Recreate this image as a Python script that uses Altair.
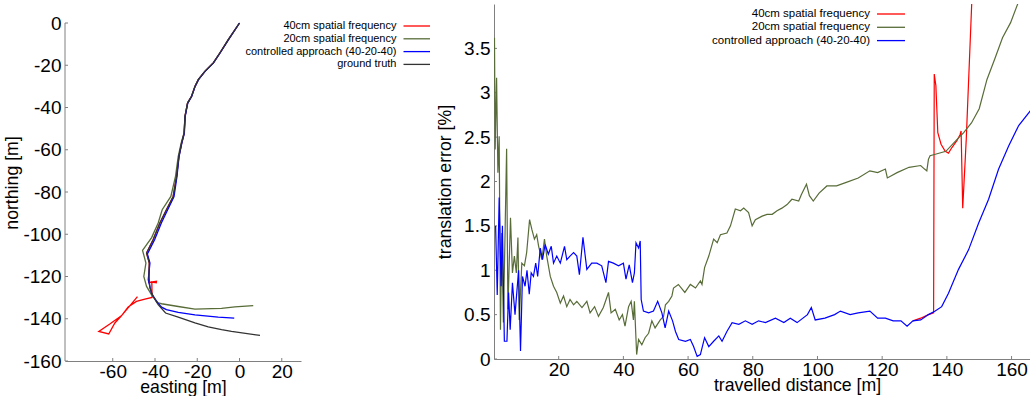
import altair as alt
import pandas as pd

# ---------------- trajectory panel: easting / northing [m] ----------------
gt_east = [0, -5.3, -9.3, -12.4, -16.4, -19.5, -21.1, -22.7, -24.6, -25.8, -26.2, -27.4, -28.7,
           -29.8, -31.4, -34.6, -37.7, -40.9, -44.0, -42.7, -42.9, -42.4, -40.9, -38.5, -35.0,
           -29.0, -21.1, -14.8, -8.5, -3.8, 9.7]
gt_north = [0, -7.9, -14.2, -18.9, -22.9, -26.8, -30.0, -34.7, -37.9, -44.2, -52.1, -56.8, -63.1,
            -72.6, -82.1, -88.4, -94.7, -102.6, -108.9, -113.6, -119.9, -125.4, -129.4, -133.3,
            -137.3, -139.2, -142.0, -143.9, -145.2, -146.0, -147.9]

ctl_east = [0, -5.2, -9.2, -12.3, -16.3, -19.4, -21.0, -22.6, -24.5, -25.7, -26.1, -27.3, -28.6,
            -29.6, -31.0, -34.0, -37.0, -40.2, -43.6, -42.4, -43.2, -41.7, -39.3, -36.9, -34.6,
            -29.0, -21.1, -10.1, -2.5]
ctl_north = [0, -7.9, -14.2, -18.9, -22.9, -26.8, -30.0, -34.7, -37.9, -44.2, -52.1, -56.8, -63.1,
             -72.6, -82.1, -88.4, -94.7, -102.6, -109.3, -113.6, -121.5, -127.8, -131.8, -134.5,
             -135.7, -137.0, -138.2, -139.2, -139.7]

f20_east = [0, -5.3, -9.3, -12.4, -16.4, -19.5, -21.1, -22.7, -24.6, -25.8, -26.3, -27.6, -29.0,
            -30.3, -32.5, -36.6, -38.5, -41.6, -45.9, -44.3, -45.3, -44.0, -41.7, -38.5, -36.9,
            -29.0, -21.1, -13.2, -8.5, -2.2, 6.5]
f20_north = [0, -7.9, -14.2, -18.9, -22.9, -26.8, -30.0, -34.7, -37.9, -44.2, -52.1, -56.8, -63.1,
             -72.6, -82.1, -88.4, -94.7, -101.6, -107.6, -113.6, -120.0, -124.7, -128.6, -132.5,
             -132.9, -134.2, -135.4, -135.2, -135.1, -134.4, -133.8]

f40_east = [0, -5.3, -9.3, -12.4, -16.4, -19.5, -21.1, -22.7, -24.6, -25.8, -26.2, -27.4, -28.7,
            -29.8, -31.4, -34.6, -37.7, -40.9, -44.0, -42.7, -42.9, -39.3, -39.4, -41.5, -41.4,
            -44.8, -48.8, -52.7, -55.9, -61.4, -66.6, -61.9, -59.0, -55.9, -48.3]
f40_north = [0, -7.9, -14.2, -18.9, -22.9, -26.8, -30.0, -34.7, -37.9, -44.2, -52.1, -56.8, -63.1,
             -72.6, -82.1, -88.4, -94.7, -102.6, -108.9, -113.6, -122.8, -122.3, -123.0, -122.6,
             -129.9, -130.7, -131.8, -134.4, -138.6, -142.5, -146.0, -147.2, -142.0, -138.6, -129.5]

# ---------------- error panel: travelled distance [m] / translation error [%] ----------------
f20_dist = [0.15, 0.36, 0.8, 1.2, 1.6, 2.0, 2.4, 2.9, 3.9, 4.3, 5.1, 5.7, 6.3, 6.9, 7.4, 7.8, 8.6,
            9.4, 10.1, 11.0, 11.7, 12.5, 13.2, 13.8, 14.8, 15.6, 16.3, 17.4, 18.4, 19.4, 20.5,
            21.5, 22.5, 23.5, 24.6, 25.6, 27.2, 28.7, 29.7, 31.1, 32.3, 33.8, 35.4, 36.2, 37.5,
            38.7, 39.7, 40.5, 41.6, 42.4, 43.1, 43.4, 44.1, 44.7, 45.7, 46.7, 47.8, 48.8, 49.8,
            51.4, 52.4, 53.0, 54.0, 55.0, 55.5, 57.0, 59.0, 60.7, 62.3, 63.8, 64.3, 65.1, 66.4,
            67.9, 69.0, 70.0, 72.0, 73.1, 74.6, 76.2, 77.2, 78.7, 79.8, 80.8, 82.9, 84.4, 86.0,
            87.5, 89.0, 90.6, 92.1, 94.2, 95.0, 96.6, 97.5, 98.7, 100.5, 102.9, 105.9, 108.9,
            112.6, 116.2, 118.6, 121.0, 121.6, 124.6, 128.3, 131.9, 133.1, 133.8, 134.3, 134.8,
            136.7, 139.7, 142.8, 145.2, 147.6, 150.0, 152.4, 154.8, 157.2, 159.7, 162.1, 163.0]
f20_err = [3.62, 2.36, 3.17, 2.10, 2.51, 0.33, 1.42, 0.41, 2.37, 0.56, 1.59, 0.97, 1.16, 0.97, 1.37,
           0.44, 1.08, 1.05, 1.20, 1.57, 1.46, 1.35, 1.40, 1.27, 1.12, 1.35, 1.16, 0.93, 0.82, 0.75,
           0.63, 0.71, 0.59, 0.67, 0.61, 0.65, 0.58, 0.65, 0.52, 0.59, 0.48, 0.58, 0.75, 0.52, 0.56,
           0.44, 0.50, 0.37, 0.59, 0.65, 0.44, 0.65, 0.05, 0.22, 0.16, 0.24, 0.29, 0.43, 0.35, 0.44,
           0.48, 0.61, 0.65, 0.71, 0.80, 0.84, 0.75, 0.84, 0.80, 0.88, 0.84, 1.03, 1.16, 1.35, 1.31,
           1.40, 1.42, 1.50, 1.69, 1.67, 1.70, 1.65, 1.50, 1.57, 1.61, 1.63, 1.63, 1.67, 1.70, 1.74,
           1.80, 1.78, 1.85, 1.97, 1.84, 1.78, 1.87, 1.95, 1.95, 1.99, 2.04, 2.12, 2.10, 2.14, 2.04,
           2.10, 2.16, 2.18, 2.14, 2.12, 2.25, 2.29, 2.31, 2.34, 2.46, 2.55, 2.66, 2.82, 3.15, 3.38,
           3.62, 3.79, 4.02, 4.10]

ctl_dist = [0.5, 1.0, 1.6, 2.2, 2.6, 3.2, 4.0, 4.5, 5.0, 5.7, 6.5, 7.6, 8.2, 8.8, 9.6, 10.2, 10.9,
            11.5, 12.2, 12.9, 13.5, 14.3, 15.0, 15.8, 16.8, 17.7, 18.4, 19.4, 20.5, 21.8, 22.5,
            23.5, 24.6, 25.6, 26.4, 27.5, 28.7, 30.2, 31.8, 33.3, 34.6, 35.4, 36.9, 38.5, 40.0,
            40.8, 41.8, 42.8, 43.4, 43.9, 44.7, 45.2, 45.5, 46.2, 47.8, 49.3, 50.6, 51.9, 52.9,
            54.0, 55.2, 56.1, 57.1, 59.2, 60.7, 61.7, 62.8, 63.8, 65.1, 66.4, 67.9, 69.5, 70.5,
            72.0, 73.6, 75.7, 77.7, 79.8, 81.8, 83.9, 87.0, 89.6, 91.6, 93.7, 96.9, 98.1, 99.3,
            102.3, 105.3, 107.1, 110.1, 112.6, 116.2, 118.6, 121.0, 123.4, 125.8, 127.7, 129.5,
            131.9, 134.3, 136.4, 138.4, 140.5, 143.6, 146.7, 149.8, 152.9, 156.0, 159.1, 162.2,
            165.9]
ctl_err = [1.50, 0.72, 1.82, 0.82, 1.50, 0.20, 0.20, 0.75, 0.33, 0.86, 0.50, 1.00, 0.09, 0.93, 0.82,
           1.00, 0.73, 0.97, 0.93, 1.08, 0.93, 1.25, 1.12, 1.29, 1.18, 1.27, 1.08, 1.16, 1.08, 1.27,
           1.12, 1.16, 1.20, 1.16, 0.95, 1.37, 1.01, 1.08, 1.08, 1.05, 0.86, 1.10, 1.08, 1.05, 1.08,
           0.90, 1.06, 0.86, 0.97, 1.31, 1.25, 1.33, 0.67, 0.54, 0.52, 0.54, 0.65, 0.52, 0.35, 0.54,
           0.43, 0.31, 0.22, 0.20, 0.22, 0.14, 0.03, 0.05, 0.24, 0.14, 0.20, 0.26, 0.20, 0.31, 0.41,
           0.39, 0.43, 0.39, 0.43, 0.41, 0.46, 0.41, 0.46, 0.41, 0.50, 0.58, 0.44, 0.46, 0.50, 0.54,
           0.50, 0.52, 0.54, 0.46, 0.46, 0.43, 0.43, 0.37, 0.43, 0.44, 0.50, 0.54, 0.59, 0.74, 1.01,
           1.23, 1.53, 1.80, 2.14, 2.40, 2.63, 2.80]

f40_dist = [129.5, 131.9, 134.3, 135.9, 136.1, 136.6, 137.2, 138.2, 139.5, 140.5, 141.5, 143.1,
            144.1, 144.4, 144.9, 146.0, 147.7, 148.0]
f40_err = [0.43, 0.46, 0.50, 0.52, 3.21, 3.08, 2.55, 2.42, 2.34, 2.32, 2.38, 2.46, 2.53, 2.57,
           1.70, 2.48, 4.02, 4.20]

# ---------------- shared styling ----------------
RED = "#ff0000"
GREEN = "#586c38"
BLUE = "#0000ff"
BLACK = "#333333"
AXIS_GREY = "#808080"
FONT = "Liberation Sans"

legend_left_labels = ["40cm spatial frequency", "20cm spatial frequency",
                      "controlled approach (40-20-40)", "ground truth"]
legend_left_colors = [RED, GREEN, BLUE, BLACK]
legend_right_labels = legend_left_labels[:3]
legend_right_colors = legend_left_colors[:3]

TICK_LABEL = "datum.value + ''"


def frame(xs, ys):
    return pd.DataFrame({"x": xs, "y": ys, "i": list(range(len(xs)))})


def legend_layers(labels, colors, text_x, line_x0, line_x1, y0, step, size):
    layers = []
    for k, (lab, col) in enumerate(zip(labels, colors)):
        y = y0 + k * step
        layers.append(
            alt.Chart(pd.DataFrame({"label": [lab]}))
            .mark_text(align="right", baseline="middle", font=FONT, fontSize=size, color="#000000")
            .encode(text="label:N", x=alt.value(text_x), y=alt.value(y))
        )
        layers.append(
            alt.Chart(pd.DataFrame({"label": [lab]}))
            .mark_rule(color=col, strokeWidth=1.3)
            .encode(x=alt.value(line_x0), x2=alt.value(line_x1), y=alt.value(y))
        )
    return layers


# ---------------- left: trajectories ----------------
LW, LH = 236, 357
lx = alt.X("x:Q", scale=alt.Scale(domain=[-82.6, 29.1], nice=False, zero=False),
           axis=alt.Axis(values=[-60, -40, -20, 0, 20], title="easting [m]", labelExpr=TICK_LABEL,
                         ticks=False, tickSize=0, labelPadding=1, titlePadding=-3, grid=False,
                         labelFlush=False, labelOverlap=False))
ly = alt.Y("y:Q", scale=alt.Scale(domain=[-160, 9.0], nice=False, zero=False),
           axis=alt.Axis(values=[-160, -140, -120, -100, -80, -60, -40, -20, 0], title="northing [m]",
                         labelExpr=TICK_LABEL, domain=False, ticks=False, tickSize=0, labelPadding=4,
                         titlePadding=1, grid=False, labelFlush=False, labelOverlap=False))


def traj(xs, ys, color):
    return (alt.Chart(frame(xs, ys)).mark_line(color=color, strokeWidth=1.3, clip=True)
            .encode(x=lx, y=ly, order="i:Q"))


left_axis_line = (alt.Chart(pd.DataFrame({"y": [-160], "y_end": [0]}))
                  .mark_rule(color=AXIS_GREY, strokeWidth=1)
                  .encode(x=alt.value(0), y=ly, y2="y_end:Q"))
left_xticks = (alt.Chart(pd.DataFrame({"x": [-60, -40, -20, 0, 20]}))
               .mark_rule(color=AXIS_GREY)
               .encode(x=lx, y=alt.value(LH), y2=alt.value(LH - 3)))
left_yticks = (alt.Chart(pd.DataFrame({"y": [-160, -140, -120, -100, -80, -60, -40, -20, 0]}))
               .mark_rule(color=AXIS_GREY)
               .encode(y=ly, x=alt.value(0), x2=alt.value(3)))

left = alt.layer(
    left_axis_line, left_xticks, left_yticks,
    traj(f40_east, f40_north, RED),
    traj(f20_east, f20_north, GREEN),
    traj(ctl_east, ctl_north, BLUE),
    traj(gt_east, gt_north, BLACK),
    *legend_layers(legend_left_labels, legend_left_colors, 331.5, 338.5, 365, 22, 12.8, 11),
).properties(width=LW, height=LH)

# ---------------- right: translation error ----------------
RW, RH = 536, 355
rx = alt.X("x:Q", scale=alt.Scale(domain=[0, 165.7], nice=False, zero=False),
           axis=alt.Axis(values=[20, 40, 60, 80, 100, 120, 140, 160], title="travelled distance [m]",
                         labelExpr=TICK_LABEL, ticks=False, tickSize=0, labelPadding=1, titlePadding=-3,
                         titleX=303, grid=False, labelFlush=False, labelOverlap=False))
ry = alt.Y("y:Q", scale=alt.Scale(domain=[0, 4], nice=False, zero=False),
           axis=alt.Axis(values=[0, 0.5, 1, 1.5, 2, 2.5, 3, 3.5], title="translation error [%]",
                         labelExpr=TICK_LABEL, ticks=False, tickSize=0, labelPadding=4,
                         titlePadding=9, grid=False, labelFlush=False, labelOverlap=False))


def err_line(xs, ys, color):
    return (alt.Chart(frame(xs, ys)).mark_line(color=color, strokeWidth=1.2, clip=True)
            .encode(x=rx, y=ry, order="i:Q"))


right_xticks = (alt.Chart(pd.DataFrame({"x": [20, 40, 60, 80, 100, 120, 140, 160]}))
                .mark_rule(color=AXIS_GREY)
                .encode(x=rx, y=alt.value(RH), y2=alt.value(RH - 3)))
right_yticks = (alt.Chart(pd.DataFrame({"y": [0, 0.5, 1, 1.5, 2, 2.5, 3, 3.5]}))
                .mark_rule(color=AXIS_GREY)
                .encode(y=ry, x=alt.value(0), x2=alt.value(3)))

right = alt.layer(
    right_xticks, right_yticks,
    err_line(f40_dist, f40_err, RED),
    err_line(f20_dist, f20_err, GREEN),
    err_line(ctl_dist, ctl_err, BLUE),
    *legend_layers(legend_right_labels, legend_right_colors, 376, 383, 411, 10, 13.3, 11.5),
).properties(width=RW, height=RH)

chart = (
    alt.hconcat(left, right, spacing=193, bounds="flush")
    .properties(padding={"left": 3, "top": 4, "right": 0, "bottom": 0})
    .configure_view(stroke=None)
    .configure_axis(labelFont=FONT, titleFont=FONT, labelFontSize=19, titleFontSize=17.7,
                    titleFontWeight="normal", labelColor="#000000", titleColor="#000000",
                    domainColor=AXIS_GREY, domainWidth=1)
)

chart.save("out.html", embed_options={"renderer": "svg", "actions": False})
